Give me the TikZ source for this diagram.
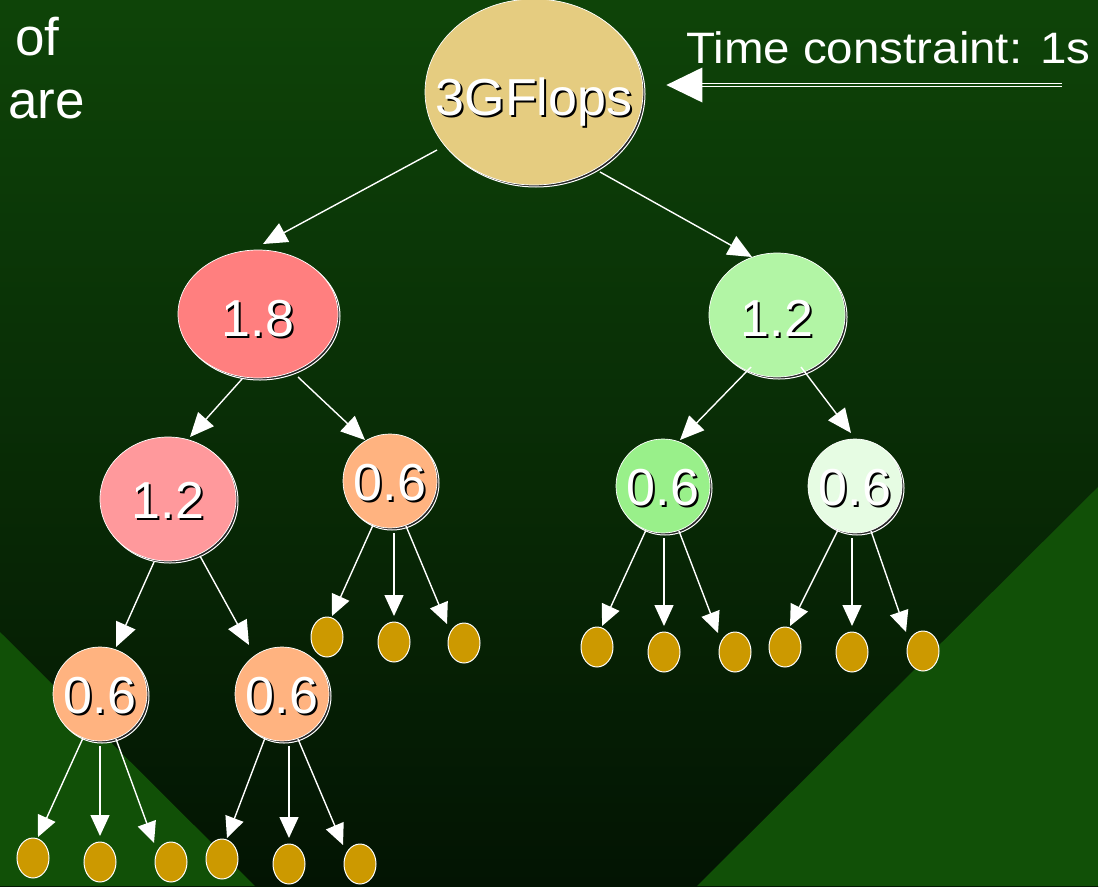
\documentclass[tikz,border=0pt]{standalone}
\usepackage{fontspec}
\setmainfont{Liberation Sans}
\usetikzlibrary{shapes.geometric,arrows.meta,calc}
\definecolor{bgtop}{HTML}{0E4408}
\definecolor{bgmid}{HTML}{082E05}
\definecolor{bgbot}{HTML}{031403}
\definecolor{bglight}{HTML}{115007}
\definecolor{roottan}{HTML}{E5CC80}
\definecolor{redn}{HTML}{FF7F7F}
\definecolor{pinkn}{HTML}{FF999C}
\definecolor{peachn}{HTML}{FFB380}
\definecolor{lgreenn}{HTML}{B2F5A5}
\definecolor{greenn}{HTML}{99F08A}
\definecolor{whiten}{HTML}{E6FCE3}
\definecolor{gold}{HTML}{CC9900}
\newcommand{\shtext}[1]{\makebox[0pt][l]{\hspace{2pt}\raisebox{-2pt}{\textcolor{black}{#1}}}#1}
\newcommand{\bignode}[8]{%
  \fill[black!85, draw=white, line width=1pt] (#2+2,#3+2) ellipse [x radius=#4, y radius=#5];
  \node[el, fill=#6, minimum width=2*#4, minimum height=2*#5] (#1) at (#2,#3) {};
  \node[lbl] at ($(#1)+(0,#8)$) {\shtext{#7}};
}
\tikzset{
  el/.style={ellipse, draw=white, line width=0.7pt, inner sep=0pt},
  lbl/.style={anchor=base, inner sep=0pt, text=white, font=\fontsize{52}{60}\selectfont},
  leaf/.style={ellipse, fill=gold, draw=white, line width=1pt, inner sep=0pt, minimum width=32, minimum height=40},
  arr/.style={draw=white, line width=1.4pt, -{Triangle[length=21pt,width=19pt]}},
  bigarr/.style={draw=white, line width=1.4pt, -{Triangle[length=24pt,width=21pt]}},
  plain/.style={anchor=base west, inner sep=0pt, text=white}
}
\begin{document}
\begin{tikzpicture}[x=1pt,y=-1pt]
\useasboundingbox (0,0) rectangle (1107,886);
% background
\shade[top color=bgtop, middle color=bgmid, bottom color=bgbot] (0,0) rectangle (1098,886);
\fill[bglight] (0,632) -- (255,886) -- (0,886) -- cycle;
\fill[bglight] (1098,487) -- (697,886) -- (1098,886) -- cycle;
\fill[white] (1098,0) rectangle (1107,886);

% side texts
\node[plain, font=\fontsize{53}{60}\selectfont] (of) at (15,55) {of};
\node[plain, font=\fontsize{53}{60}\selectfont] (are) at (8,118) {are};

% main nodes
\bignode{root}{534}{92}{109}{93}{roottan}{3GFlops}{23}
\bignode{n18}{258}{314}{80}{64}{redn}{1.8}{22}
\bignode{n12R}{777}{315}{68}{62}{lgreenn}{1.2}{21}
\bignode{n12L}{168}{499}{68}{62}{pinkn}{1.2}{19}
\bignode{n06a}{390}{481}{47}{47}{peachn}{0.6}{19}
\bignode{n06G}{663}{486}{47}{47}{greenn}{0.6}{19}
\bignode{n06W}{855}{486}{47}{47}{whiten}{0.6}{19}
\bignode{n06L}{100}{694}{47}{47}{peachn}{0.6}{19}
\bignode{n06R}{282}{694}{47}{47}{peachn}{0.6}{19}

% leaves
\node[leaf] (la1) at (33,858) {};
\node[leaf] (la2) at (100,862) {};
\node[leaf] (la3) at (171,862) {};
\node[leaf] (lb1) at (222,859) {};
\node[leaf] (lb2) at (289,864) {};
\node[leaf] (lb3) at (360,864) {};
\node[leaf] (lc1) at (327,637) {};
\node[leaf] (lc2) at (394,642) {};
\node[leaf] (lc3) at (464,643) {};
\node[leaf] (ld1) at (597,647) {};
\node[leaf] (ld2) at (664,652) {};
\node[leaf] (ld3) at (735,652) {};
\node[leaf] (le1) at (785,647) {};
\node[leaf] (le2) at (852,652) {};
\node[leaf] (le3) at (923,651) {};

% tree arrows
\draw[bigarr] ($(root)+(-97,58)$) -- ($(n18)+(5,-70)$);
\draw[bigarr] ($(root)+(66,80)$) -- ($(n12R)+(-25,-58)$);
\draw[bigarr] ($(n18)+(-16,65)$) -- ($(n12L)+(22,-62)$);
\draw[bigarr] ($(n18)+(40,63)$) -- ($(n06a)+(-25,-41)$);
\draw[bigarr] ($(n12L)+(-14,63)$) -- ($(n06L)+(16,-47)$);
\draw[bigarr] ($(n12L)+(32,57)$) -- ($(n06R)+(-33,-49)$);
\draw[bigarr] ($(n12R)+(-26,52)$) -- ($(n06G)+(17,-46)$);
\draw[bigarr] ($(n12R)+(24,52)$) -- ($(n06W)+(-4,-53)$);

% leaf arrows
\foreach \p/\l in {n06L/la, n06R/lb, n06a/lc, n06G/ld, n06W/le}{
  \draw[arr] ($(\p)+(-17,44)$) -- ($(\l1)+(5,-21)$);
  \draw[arr] ($(\l2 |- \p)+(0,52)$) -- ($(\l2)+(0,-26)$);
  \draw[arr] ($(\p)+(16,45)$) -- ($(\l3)+(-17,-19)$);
}

% time constraint
\node[plain, font=\fontsize{44}{50}\selectfont] (tc) at (686,63) {\scalebox{1.08}[1]{Time constraint: 1s}};
\coordinate (tcEnd) at (1062,85);
\draw[white, line width=1.3pt, double=bgtop, double distance=2pt] (tcEnd) -- ($(root.east)+(58,-7)$);
\fill[white] ($(root.east)+(23,-7)$) -- ($(root.east)+(59,-24.5)$) -- ($(root.east)+(59,10.5)$) -- cycle;
\end{tikzpicture}
\end{document}
